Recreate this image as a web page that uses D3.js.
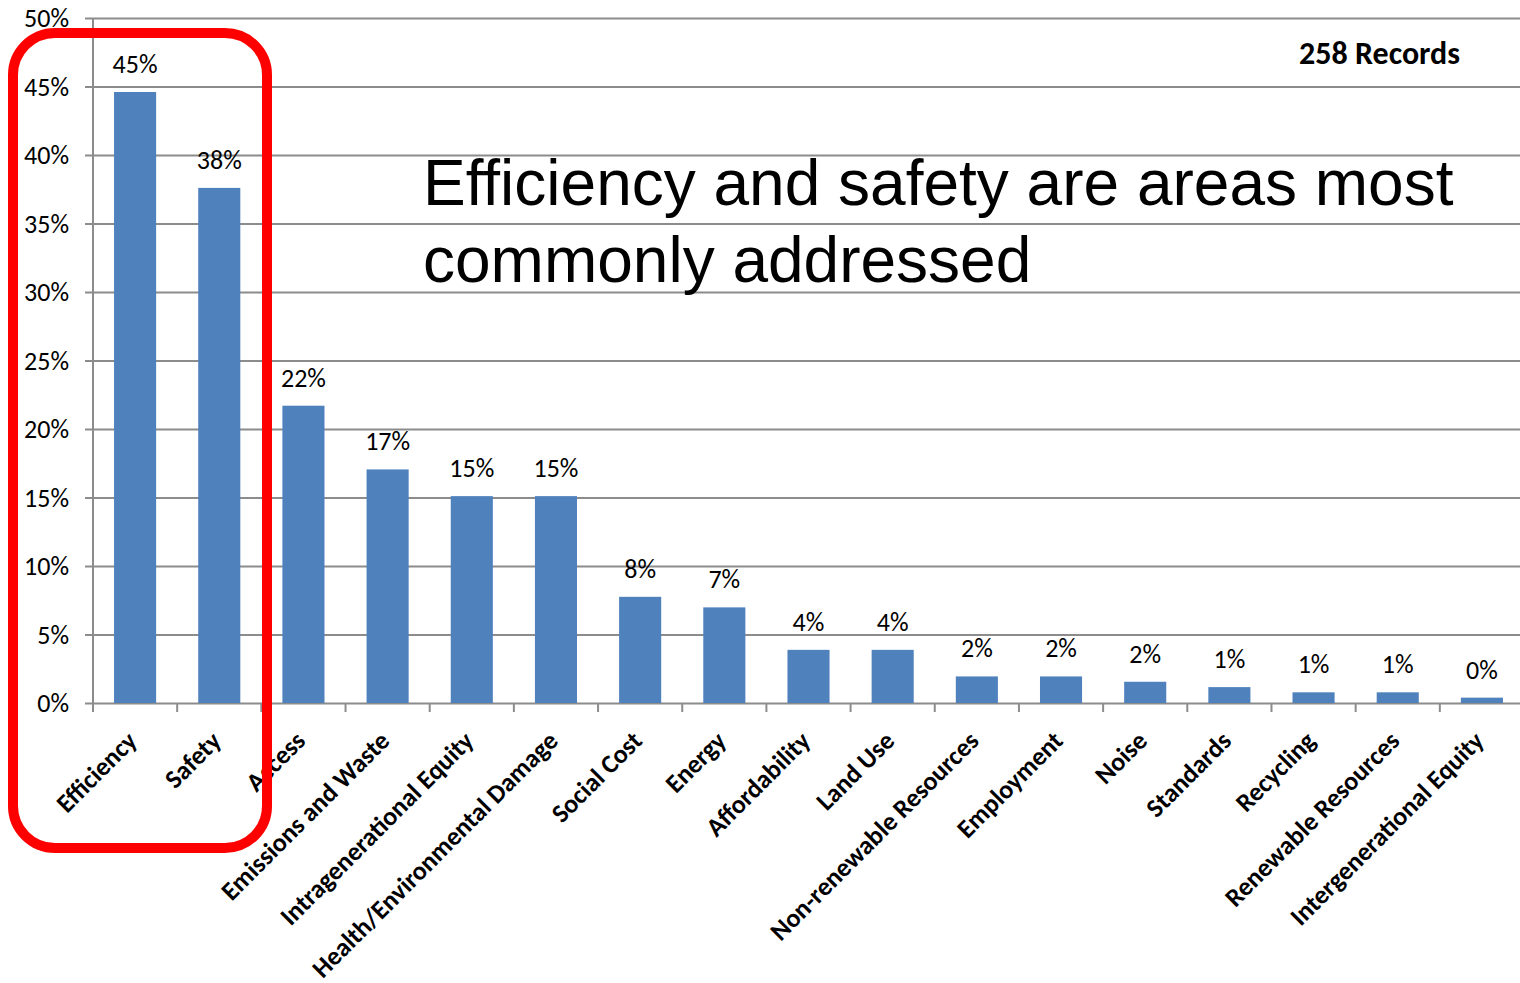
<!DOCTYPE html>
<html>
<head>
<meta charset="utf-8">
<script src="https://cdn.jsdelivr.net/npm/d3@7"></script>
<style>
  html, body { margin: 0; padding: 0; background: #fff; overflow: hidden; }
  svg { display: block; }
</style>
</head>
<body>
<div id="chart"></div>
<script>
// categories and shares (percent of 258 records)
const categories = ["Efficiency", "Safety", "Access", "Emissions and Waste", "Intragenerational Equity",
  "Health/Environmental Damage", "Social Cost", "Energy", "Affordability", "Land Use",
  "Non-renewable Resources", "Employment", "Noise", "Standards", "Recycling",
  "Renewable Resources", "Intergenerational Equity"];
const shares = [44.6, 37.6, 21.7, 17.05, 15.1, 15.1, 7.75, 6.98, 3.88, 3.88, 1.94, 1.94, 1.55, 1.16, 0.78, 0.78, 0.39];
const valueLabels = ["45%", "38%", "22%", "17%", "15%", "15%", "8%", "7%", "4%", "4%", "2%", "2%", "2%", "1%", "1%", "1%", "0%"];
const yTicks = [0, 5, 10, 15, 20, 25, 30, 35, 40, 45, 50];
const recordsLabel = "258 Records";
const headline = ["Efficiency and safety are areas most", "commonly addressed"];

const width = 1520, height = 983;
const plotLeft = 93, plotRight = 1524, plotTop = 18, plotBottom = 703;
const labelFont = "Carlito, Calibri, Lato, 'Open Sans', sans-serif";

const svg = d3.select("#chart").append("svg")
    .attr("width", width)
    .attr("height", height);

const x = d3.scaleBand().domain(categories).range([plotLeft, plotRight]).paddingInner(0.5).paddingOuter(0.25);
const y = d3.scaleLinear().domain([0, 50]).range([plotBottom, plotTop]);

// gridlines + y ticks
svg.append("g")
    .selectAll("line")
    .data(yTicks)
    .join("line")
    .attr("x1", plotLeft - 8)
    .attr("x2", width)
    .attr("y1", d => y(d) + 0.5)
    .attr("y2", d => y(d) + 0.5)
    .attr("stroke", "#8c8c8c")
    .attr("stroke-width", 2);

svg.append("g")
    .selectAll("text")
    .data(yTicks)
    .join("text")
    .attr("x", plotLeft - 24)
    .attr("y", d => y(d))
    .attr("dy", "0.36em")
    .attr("text-anchor", "end")
    .style("font-family", labelFont)
    .style("font-size", "26px")
    .text(d => d + "%");

// y axis line
svg.append("line")
    .attr("x1", plotLeft).attr("x2", plotLeft)
    .attr("y1", plotTop).attr("y2", plotBottom)
    .attr("stroke", "#8c8c8c").attr("stroke-width", 2);

// x ticks at band boundaries
const step = x.step();
const boundaries = d3.range(categories.length).map(i => plotLeft + i * step);
svg.append("g")
    .selectAll("line")
    .data(boundaries)
    .join("line")
    .attr("x1", d => d).attr("x2", d => d)
    .attr("y1", plotBottom).attr("y2", plotBottom + 9)
    .attr("stroke", "#8c8c8c").attr("stroke-width", 2);

// bars
svg.append("g")
    .selectAll("rect")
    .data(shares)
    .join("rect")
    .attr("x", (d, i) => x(categories[i]))
    .attr("width", x.bandwidth())
    .attr("y", d => y(d))
    .attr("height", d => y(0) - y(d))
    .attr("fill", "#4f81bd");

// value labels
svg.append("g")
    .selectAll("text")
    .data(shares)
    .join("text")
    .attr("x", (d, i) => x(categories[i]) + x.bandwidth() / 2)
    .attr("y", d => y(d) - 19)
    .attr("text-anchor", "middle")
    .style("font-family", labelFont)
    .style("font-size", "26px")
    .text((d, i) => valueLabels[i]);

// category labels
svg.append("g")
    .selectAll("text")
    .data(categories)
    .join("text")
    .attr("transform", d => `translate(${x(d) + x.bandwidth() / 2 - 3},${plotBottom + 33}) rotate(-45)`)
    .attr("text-anchor", "end")
    .attr("dy", "0.35em")
    .style("font-family", labelFont)
    .style("font-size", "26px")
    .style("font-weight", "bold")
    .text(d => d);

// records note
svg.append("text")
    .attr("x", 1460)
    .attr("y", 64)
    .attr("text-anchor", "end")
    .style("font-family", labelFont)
    .style("font-size", "32px")
    .style("font-weight", "bold")
    .text(recordsLabel);

// headline
svg.append("g")
    .selectAll("text")
    .data(headline)
    .join("text")
    .attr("x", 423)
    .attr("y", (d, i) => 205 + i * 77)
    .style("font-family", "'Liberation Sans', Arial, sans-serif")
    .style("font-size", "64px")
    .text(d => d);

// red highlight box
svg.append("rect")
    .attr("x", 13).attr("y", 33)
    .attr("width", 254).attr("height", 815)
    .attr("rx", 42).attr("ry", 42)
    .attr("fill", "none")
    .attr("stroke", "#ff0000")
    .attr("stroke-width", 10);
</script>
</body>
</html>
